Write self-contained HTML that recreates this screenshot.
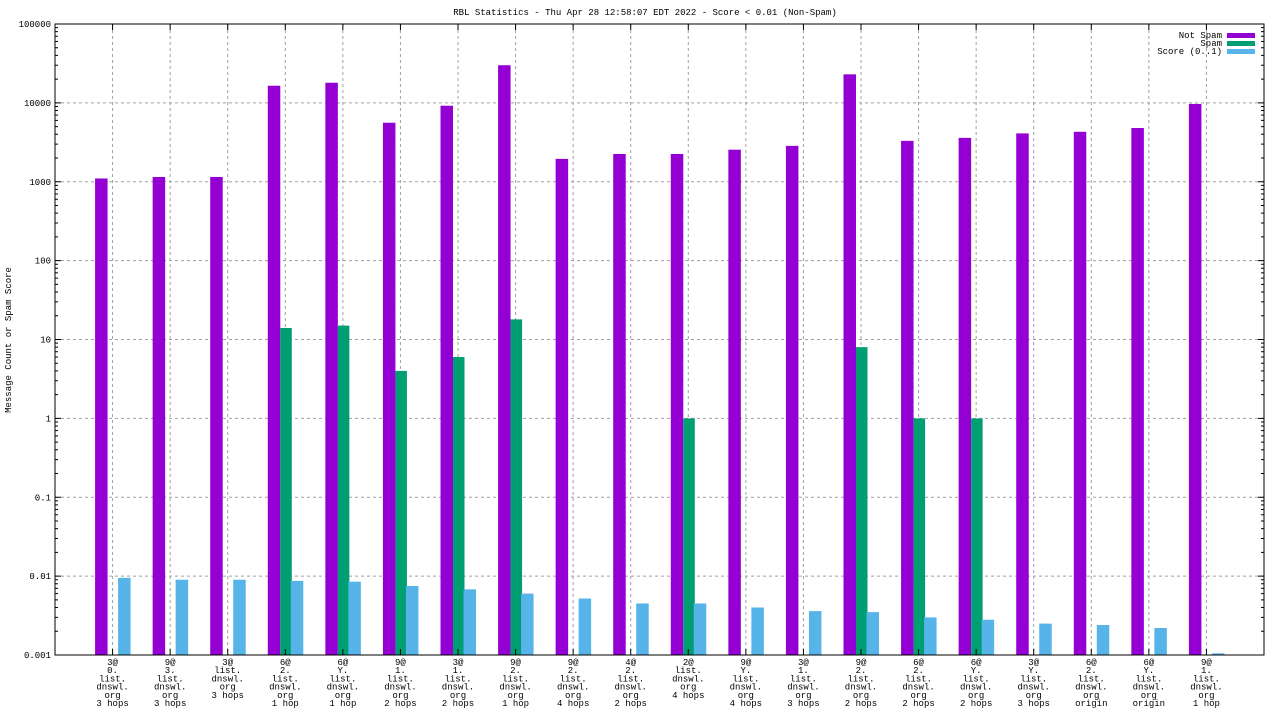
<!DOCTYPE html>
<html><head><meta charset="utf-8"><style>
html,body{margin:0;padding:0;background:#fff;}
svg{display:block;font-family:"Liberation Mono","DejaVu Sans Mono",monospace;}
</style></head><body>
<svg id="chart" width="1280" height="720" xmlns="http://www.w3.org/2000/svg">
<text x="645" y="15" font-size="9" text-anchor="middle">RBL Statistics - Thu Apr 28 12:58:07 EDT 2022 - Score &lt; 0.01 (Non-Spam)</text>
<text transform="translate(11,340) rotate(-90)" font-size="9" text-anchor="middle">Message Count or Spam Score</text>
<g id="grid"></g><g id="bars"></g><g id="axes"></g><g id="labels"></g>
<g>
<text x="1222" y="38" font-size="9" text-anchor="end">Not Spam</text>
<rect x="1227" y="33" width="28" height="5" fill="#9400d3"/>
<text x="1222" y="46" font-size="9" text-anchor="end">Spam</text>
<rect x="1227" y="41" width="28" height="5" fill="#009e73"/>
<text x="1222" y="54" font-size="9" text-anchor="end">Score (0..1)</text>
<rect x="1227" y="49" width="28" height="5" fill="#56b4e9"/>
</g>
</svg>
<script>
const categories = [
"3@|0.|list.|dnswl.|org|3 hops","9@|3.|list.|dnswl.|org|3 hops","3@|list.|dnswl.|org|3 hops","6@|2.|list.|dnswl.|org|1 hop",
"6@|Y.|list.|dnswl.|org|1 hop","9@|1.|list.|dnswl.|org|2 hops","3@|1.|list.|dnswl.|org|2 hops","9@|2.|list.|dnswl.|org|1 hop",
"9@|2.|list.|dnswl.|org|4 hops","4@|2.|list.|dnswl.|org|2 hops","2@|list.|dnswl.|org|4 hops","9@|Y.|list.|dnswl.|org|4 hops",
"3@|1.|list.|dnswl.|org|3 hops","9@|2.|list.|dnswl.|org|2 hops","6@|2.|list.|dnswl.|org|2 hops","6@|Y.|list.|dnswl.|org|2 hops",
"3@|Y.|list.|dnswl.|org|3 hops","6@|2.|list.|dnswl.|org|origin","6@|Y.|list.|dnswl.|org|origin","9@|1.|list.|dnswl.|org|1 hop"];
const notSpam = [1100,1150,1150,16500,18000,5600,9200,30000,1950,2250,2250,2550,2850,23000,3300,3600,4100,4300,4800,9700];
const spam = [0,0,0,14,15,4,6,18,0,0,1,0,0,8,1,1,0,0,0,0];
const score = [0.0095,0.009,0.009,0.0087,0.0085,0.0075,0.0068,0.006,0.0052,0.0045,0.0045,0.004,0.0036,0.0035,0.003,0.0028,0.0025,0.0024,0.0022,0.00105];
const yTicks = ["0.001","0.01","0.1","1","10","100","1000","10000","100000"];

const L=55,R=1264,T=24,B=655,NS="http://www.w3.org/2000/svg";
const xs=i=>L+(R-L)*(i+1)/(categories.length+1);
const ys=v=>B-(Math.log10(v)+3)*(B-T)/8;
function mk(tag,attrs,parent){const e=document.createElementNS(NS,tag);for(const k in attrs)e.setAttribute(k,attrs[k]);parent.appendChild(e);return e;}
const grid=document.getElementById('grid'),bars=document.getElementById('bars'),axes=document.getElementById('axes'),labels=document.getElementById('labels');
yTicks.forEach((t,j)=>{const v=parseFloat(t),y=ys(v);
 if(j>0&&j<yTicks.length-1){const g=mk('line',{x1:L,x2:R,y1:y,y2:y,stroke:'#a0a0a0','stroke-dasharray':'3,3','stroke-width':1},grid);
 
 }
 const tx=mk('text',{x:L-4,y:y+3,'font-size':9,'text-anchor':'end'},axes);tx.textContent=t;
 
 
 mk('line',{x1:L,x2:L+6,y1:y,y2:y,stroke:'#000'},axes);mk('line',{x1:R,x2:R-6,y1:y,y2:y,stroke:'#000'},axes);
 if(j<yTicks.length-1){for(let m=2;m<10;m++){const ym=ys(v*m);mk('line',{x1:L,x2:L+3,y1:ym,y2:ym,stroke:'#000'},axes);mk('line',{x1:R,x2:R-3,y1:ym,y2:ym,stroke:'#000'},axes);}}
});
categories.forEach((c,i)=>{const x=xs(i);
 const g=mk('line',{x1:x,x2:x,y1:T,y2:B,stroke:'#a0a0a0','stroke-dasharray':'3,3'},grid);
 
 
 mk('line',{x1:x,x2:x,y1:T,y2:T+6,stroke:'#000'},axes);mk('line',{x1:x,x2:x,y1:B,y2:B-6,stroke:'#000'},axes);
 const t=mk('text',{x:x,y:665,'font-size':9,'text-anchor':'middle'},labels);
 
 
 c.split('|').forEach((ln,k)=>{const ts=mk('tspan',{x:x,y:665+k*8.2},t);ts.textContent=ln;});
 const bw=12.5;
 const b1=mk('rect',{x:x-17.5,y:ys(notSpam[i]),width:bw,height:B-ys(notSpam[i]),fill:'#9400d3'},bars);
 
 
 if(spam[i]>0){const b2=mk('rect',{x:x-5,y:ys(spam[i]),width:bw-1,height:B-ys(spam[i]),fill:'#009e73'},bars);
 
 }
 const b3=mk('rect',{x:x+5.5,y:ys(score[i]),width:bw,height:B-ys(score[i]),fill:'#56b4e9'},bars);
 
 
});
const fr=mk('rect',{x:L,y:T,width:R-L,height:B-T,fill:'none',stroke:'#000','stroke-width':1},axes);


</script>
</body></html>
